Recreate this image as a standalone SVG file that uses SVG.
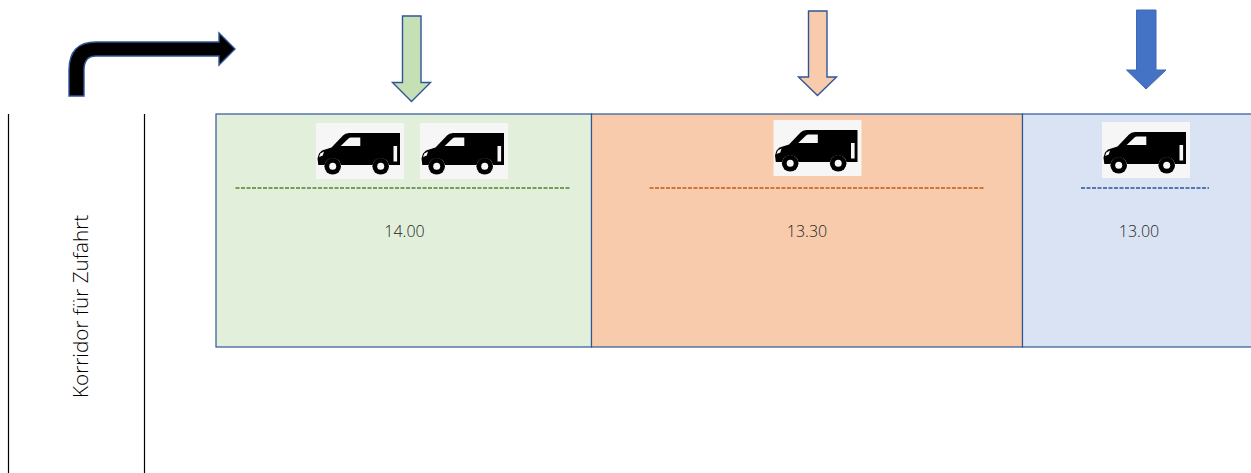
<svg xmlns="http://www.w3.org/2000/svg" width="1251" height="473" viewBox="0 0 1251 473">
<style>
.zone{stroke:#2f5597;stroke-width:1.2}
.div{fill:none;stroke-width:1.6;stroke-dasharray:4 1.5}
.time{font-family:"Open Sans",sans-serif;font-weight:300;font-size:16px;fill:#262626;text-anchor:middle}
.lane{stroke:#000;stroke-width:1.2;fill:none}
.arrow{stroke:#2f5597;stroke-width:1.4;stroke-linejoin:miter}
</style>
<defs>
<g id="van">
<rect width="88" height="56" fill="#f6f6f6"/>
<path d="M33 10H84V42H73A8.400 8.400 0 0 0 56.500 42H25A8.400 8.400 0 0 0 8.500 42H2.300L1.500 35.500L3 30.500L6 27.500L15.500 24.500L27 12.500Q29 10 33 10Z" fill="#000"/>
<circle cx="16.700" cy="43.300" r="8.300" fill="#000"/><circle cx="16.700" cy="43.300" r="3.500" fill="#f6f6f6"/>
<circle cx="64.700" cy="43.300" r="8.300" fill="#000"/><circle cx="64.700" cy="43.300" r="3.500" fill="#f6f6f6"/>
<path d="M24.700 23L32.500 15.500Q33.500 14.500 35 14.500H44.300V23Z" fill="#f6f6f6"/>
<rect x="77.500" y="23" width="3.600" height="15.500" fill="#f6f6f6"/>
<path d="M3 34L4.300 30.500L8 28.500L6.800 32.500Z" fill="#f6f6f6"/>
</g>
</defs>
<rect width="1251" height="473" fill="#fff"/>
<g id="lanes">
<line class="lane" x1="8.500" y1="114" x2="8.500" y2="473"/>
<line class="lane" x1="144.500" y1="114" x2="144.500" y2="473"/>
<text transform="translate(88 398) rotate(-90)" font-family="'Open Sans',sans-serif" font-weight="300" font-size="20.700" fill="#000">Korridor für Zufahrt</text>
</g>
<g id="entry-arrow">
<path class="arrow" fill="#000" d="M69 96V70Q69 42 96 42H219V33L235 49L219 65V56H96Q84 56 84 70V96Z"/>
</g>
<g id="zone-green">
<rect class="zone" x="216" y="114" width="375.500" height="233" fill="#e2efda"/>
<use href="#van" x="316" y="123"/>
<use href="#van" x="420" y="123"/>
<line class="div" x1="235.500" y1="188" x2="571" y2="188" stroke="#548235"/>
<text class="time" x="404.500" y="236.500">14.00</text>
<path class="arrow" fill="#c5e0b4" d="M402.500 16H421V82.500H430.500L411.500 101.500L392.500 82.500H402.500Z"/>
</g>
<g id="zone-orange">
<rect class="zone" x="591.500" y="114" width="431" height="233" fill="#f8cbad"/>
<use href="#van" x="773.500" y="120"/>
<line class="div" x1="649.500" y1="188" x2="985" y2="188" stroke="#c55a11"/>
<text class="time" x="807" y="236.500">13.30</text>
<path class="arrow" fill="#f8cbad" d="M808.500 11H827V77H836.500L817.500 95.500L798.500 77H808.500Z"/>
</g>
<g id="zone-blue">
<rect class="zone" x="1022.500" y="114" width="240" height="233" fill="#dae3f3"/>
<use href="#van" x="1102" y="122"/>
<line class="div" x1="1081" y1="188" x2="1209" y2="188" stroke="#2f5597"/>
<text class="time" x="1139" y="236.500">13.00</text>
<path d="M1136.500 10H1156V70H1166L1146 89L1126.500 70H1136.500Z" fill="#4472c4" stroke="#3f69b5" stroke-width="1"/>
</g>
</svg>
